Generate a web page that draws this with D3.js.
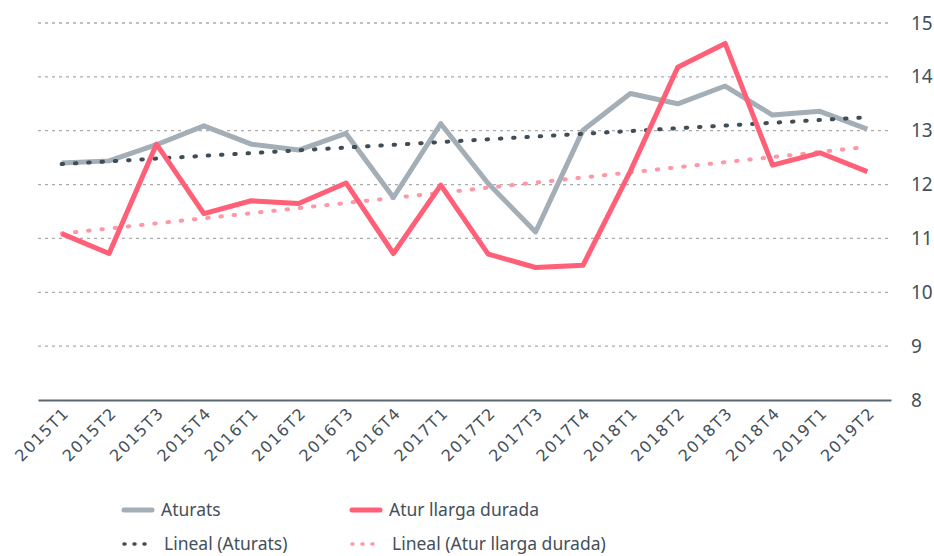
<!DOCTYPE html>
<html>
<head>
<meta charset="utf-8">
<script src="https://cdn.jsdelivr.net/npm/d3@7"></script>
<style>
  body { margin: 0; background: #fff; overflow: hidden; }
  svg { display: block; }
  text { font-family: "Noto Sans", sans-serif; fill: #44505a; }
</style>
</head>
<body>
<svg width="934" height="556"></svg>
<script>
// data
const quarters = ['2015T1','2015T2','2015T3','2015T4','2016T1','2016T2','2016T3','2016T4',
  '2017T1','2017T2','2017T3','2017T4','2018T1','2018T2','2018T3','2018T4','2019T1','2019T2'];
const aturats = [12.40,12.44,12.74,13.09,12.75,12.64,12.95,11.76,13.13,12.02,11.12,13.01,13.69,13.50,13.83,13.29,13.36,13.03];
const llarga  = [11.09,10.72,12.75,11.46,11.70,11.65,12.03,10.72,11.99,10.71,10.46,10.50,12.25,14.18,14.62,12.36,12.59,12.24];
// trend line endpoints (first and last quarter)
const trendAturats = [12.38, 13.25];
const trendLlarga  = [11.09, 12.70];
const yTicks = [8,9,10,11,12,13,14,15];

const svg = d3.select('svg');
const margin = { top: 23, right: 43, bottom: 156, left: 38 };
const width = +svg.attr('width');
const height = +svg.attr('height');
const innerWidth = width - margin.left - margin.right;
const innerHeight = height - margin.top - margin.bottom;

const xScale = d3.scalePoint()
  .domain(quarters)
  .range([0, innerWidth])
  .padding(0.5);

const yScale = d3.scaleLinear()
  .domain([8, 15])
  .range([innerHeight, 0]);

const g = svg.append('g')
  .attr('transform', `translate(${margin.left},${margin.top})`);

// gridlines
g.selectAll('.grid').data(yTicks.filter(t => t > 8))
  .enter().append('line')
  .attr('x1', 0).attr('x2', innerWidth)
  .attr('y1', d => yScale(d)).attr('y2', d => yScale(d))
  .attr('stroke', '#ababab')
  .attr('stroke-width', 1.3)
  .attr('stroke-dasharray', '3 4');

// right axis
const yAxisG = g.append('g')
  .attr('transform', `translate(${innerWidth},0)`)
  .call(d3.axisRight(yScale).tickValues(yTicks).tickFormat(d3.format('d'))
    .tickSize(0).tickPadding(20));
yAxisG.select('.domain').remove();
yAxisG.selectAll('text')
  .style('font-size', '19px')
  .attr('fill', '#44505a');

// bottom axis
const xAxisG = g.append('g')
  .attr('transform', `translate(0,${innerHeight})`)
  .call(d3.axisBottom(xScale).tickSize(0).tickPadding(0));
xAxisG.select('.domain')
  .attr('stroke', '#5b6770')
  .attr('stroke-width', 2);
xAxisG.selectAll('text')
  .style('font-family', '"DejaVu Sans", sans-serif')
  .style('font-size', '16px')
  .style('letter-spacing', '1.3px')
  .attr('fill', '#44505a')
  .attr('text-anchor', 'end')
  .attr('dy', 0)
  .attr('transform', 'translate(8,14) rotate(-45)');

const line = d3.line()
  .x((d, i) => xScale(quarters[i]))
  .y(d => yScale(d));

const trendLine = d3.line()
  .x((d, i) => xScale(i === 0 ? quarters[0] : quarters[quarters.length - 1]))
  .y(d => yScale(d));

g.append('path').datum(trendLlarga)
  .attr('d', trendLine)
  .attr('fill', 'none')
  .attr('stroke', '#ff97a6')
  .attr('stroke-width', 4)
  .attr('stroke-linecap', 'round')
  .attr('stroke-dasharray', '1.5 11.8');

g.append('path').datum(aturats)
  .attr('d', line)
  .attr('fill', 'none')
  .attr('stroke', '#a3aeb6')
  .attr('stroke-width', 5)
  .attr('stroke-linejoin', 'round');

g.append('path').datum(trendAturats)
  .attr('d', trendLine)
  .attr('fill', 'none')
  .attr('stroke', '#3f4d57')
  .attr('stroke-width', 4)
  .attr('stroke-linecap', 'round')
  .attr('stroke-dasharray', '1.5 11.8');

g.append('path').datum(llarga)
  .attr('d', line)
  .attr('fill', 'none')
  .attr('stroke', '#ff6078')
  .attr('stroke-width', 5)
  .attr('stroke-linejoin', 'round');

// legend
const legendItems = [
  { label: 'Aturats', color: '#a3aeb6', dash: null, x: 124, y: 510 },
  { label: 'Atur llarga durada', color: '#ff6078', dash: null, x: 352, y: 510 },
  { label: 'Lineal (Aturats)', color: '#3f4d57', dash: '1 9', x: 124, y: 544 },
  { label: 'Lineal (Atur llarga durada)', color: '#ff97a6', dash: '1 9', x: 352, y: 544 }
];
const legend = svg.append('g');
const li = legend.selectAll('g').data(legendItems).enter().append('g')
  .attr('transform', d => `translate(${d.x},${d.y})`);
li.append('line')
  .attr('x1', 0).attr('x2', 28)
  .attr('stroke', d => d.color)
  .attr('stroke-width', d => d.dash ? 3.5 : 5)
  .attr('stroke-linecap', 'round')
  .attr('stroke-dasharray', d => d.dash);
li.append('text')
  .attr('x', d => d.dash ? 40 : 37)
  .attr('dy', '0.35em')
  .style('font-size', '17.5px')
  .text(d => d.label);
</script>
</body>
</html>
